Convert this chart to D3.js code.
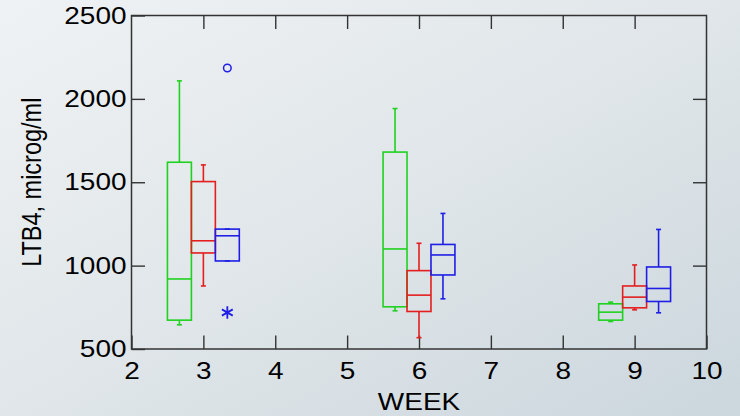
<!DOCTYPE html>
<html>
<head>
<meta charset="utf-8">
<script src="https://cdn.jsdelivr.net/npm/d3@7"></script>
<style>
  html, body { margin: 0; padding: 0; background: #e4e9ec; }
  svg { display: block; }
  text { font-family: "Liberation Sans", Arial, sans-serif; fill: #000; }
</style>
</head>
<body>
<svg id="chart" width="740" height="416"></svg>
<script>
// Weeks at which samples were taken and the horizontal offset of each group's box
const weeks = [3, 6, 9];
const groupOffsets = [-1 / 3, 0, 1 / 3];
const groupColors = ["#1fd21f", "#e41e1e", "#1e1ee6"];

// Five-number summaries per week: [lower whisker, Q1, median, Q3, upper whisker]
const greenStats = [
  [645, 673, 920, 1620, 2108],
  [729, 753, 1100, 1681, 1942],
  [665, 673, 721, 771, 781]
];
const redStats = [
  [878, 1076, 1149, 1504, 1604],
  [568, 725, 823, 970, 1134],
  [735, 747, 811, 878, 1004]
];
const blueStats = [
  [1028, 1028, 1179, 1219, 1219],
  [801, 944, 1064, 1127, 1313],
  [717, 785, 863, 992, 1217]
];

// Outlying points of the blue group at week 3: far outlier (circle), near outlier (star)
const farOutliers = [{ week: 3, group: 2, value: 2185 }];
const nearOutliers = [{ week: 3, group: 2, value: 719 }];

// Axis ticks and labels
const xTicks = [2, 3, 4, 5, 6, 7, 8, 9, 10];
const yTicks = [500, 1000, 1500, 2000, 2500];
const xTitle = "WEEK";
const yTitle = "LTB4, microg/ml";

const svg = d3.select("#chart");
const W = 740, H = 416;
const plotLeft = 131.5, plotRight = 706.5, plotTop = 15.5, plotBottom = 349;
const stretch = 1.19;     // horizontal widening of the lettering
const fontSize = 23.5;

// Background gradient
const defs = svg.append("defs");
const grad = defs.append("linearGradient").attr("id", "bg")
  .attr("x1", 0).attr("y1", 0).attr("x2", 1).attr("y2", 1);
grad.append("stop").attr("offset", "0%").attr("stop-color", "#eff2f4");
grad.append("stop").attr("offset", "50%").attr("stop-color", "#e0e6e9");
grad.append("stop").attr("offset", "100%").attr("stop-color", "#cbd6dd");
svg.append("rect").attr("width", W).attr("height", H).attr("fill", "url(#bg)");

const x = d3.scaleLinear().domain([2, 10]).range([plotLeft, plotRight]);
const y = d3.scaleLinear().domain([500, 2500]).range([plotBottom, plotTop]);

const tickLen = 13.5;
const axisColor = "#333";

function styleAxis(g, showLabels) {
  g.select(".domain").remove();
  g.selectAll(".tick line").attr("stroke", axisColor).attr("stroke-width", 1.4);
  if (!showLabels) g.selectAll(".tick text").remove();
  g.selectAll(".tick text")
    .attr("font-size", fontSize)
    .attr("fill", "#000")
    .attr("font-family", "Liberation Sans, Arial, sans-serif")
    .attr("transform", function () {
      const tx = +this.getAttribute("x") || 0;
      return `translate(${tx},0) scale(${stretch},1) translate(${-tx},0)`;
    });
}

// Inward-pointing ticks on all four sides
svg.append("g").attr("transform", `translate(0,${plotBottom})`)
  .call(d3.axisBottom(x).tickValues(xTicks).tickFormat(d3.format("d"))
    .tickSizeInner(-tickLen).tickSizeOuter(0).tickPadding(13))
  .call(g => styleAxis(g, true));
svg.append("g").attr("transform", `translate(0,${plotTop})`)
  .call(d3.axisTop(x).tickValues(xTicks.slice(1, -1)).tickSizeInner(-tickLen).tickSizeOuter(0))
  .call(g => styleAxis(g, false));
svg.append("g").attr("transform", `translate(${plotLeft},0)`)
  .call(d3.axisLeft(y).tickValues(yTicks).tickFormat(d3.format("d"))
    .tickSizeInner(-tickLen).tickSizeOuter(0).tickPadding(5))
  .call(g => styleAxis(g, true));
svg.append("g").attr("transform", `translate(${plotRight},0)`)
  .call(d3.axisRight(y).tickValues(yTicks.slice(1, -1)).tickSizeInner(-tickLen).tickSizeOuter(0))
  .call(g => styleAxis(g, false));

// Frame
svg.append("rect")
  .attr("x", plotLeft).attr("y", plotTop)
  .attr("width", plotRight - plotLeft).attr("height", plotBottom - plotTop)
  .attr("fill", "none").attr("stroke", axisColor).attr("stroke-width", 1.5);

// Box plots
const allStats = [greenStats, redStats, blueStats];
const boxHalf = (x(2 + 1 / 3) - x(2)) / 2;
const capHalf = 2.5;

allStats.forEach((stats, gi) => {
  const color = groupColors[gi];
  const g = svg.append("g").attr("stroke", color).attr("stroke-width", 1.6).attr("fill", "none");
  stats.forEach((s, wi) => {
    const cx = x(weeks[wi] + groupOffsets[gi]);
    const [lo, q1, med, q3, hi] = s;
    // whiskers
    g.append("line").attr("x1", cx).attr("x2", cx).attr("y1", y(q3)).attr("y2", y(hi));
    g.append("line").attr("x1", cx).attr("x2", cx).attr("y1", y(q1)).attr("y2", y(lo));
    // whisker caps
    g.append("line").attr("x1", cx - capHalf).attr("x2", cx + capHalf).attr("y1", y(hi)).attr("y2", y(hi));
    g.append("line").attr("x1", cx - capHalf).attr("x2", cx + capHalf).attr("y1", y(lo)).attr("y2", y(lo));
    // box
    g.append("rect").attr("x", cx - boxHalf).attr("width", boxHalf * 2)
      .attr("y", y(q3)).attr("height", y(q1) - y(q3));
    // median
    g.append("line").attr("x1", cx - boxHalf).attr("x2", cx + boxHalf)
      .attr("y1", y(med)).attr("y2", y(med));
  });
});

// Far outliers: open circles
svg.selectAll("circle.far").data(farOutliers).join("circle")
  .attr("class", "far")
  .attr("cx", d => x(d.week + groupOffsets[d.group]))
  .attr("cy", d => y(d.value))
  .attr("r", 3.8)
  .attr("fill", "none")
  .attr("stroke", d => groupColors[d.group])
  .attr("stroke-width", 1.5);

// Near outliers: asterisks
svg.selectAll("path.near").data(nearOutliers).join("path")
  .attr("class", "near")
  .attr("transform", d => `translate(${x(d.week + groupOffsets[d.group])},${y(d.value)})`)
  .attr("d", d3.symbol(d3.symbolAsterisk, 110))
  .attr("fill", "none")
  .attr("stroke", d => groupColors[d.group])
  .attr("stroke-width", 1.8);

// Axis titles
svg.append("text")
  .attr("transform", `translate(${(plotLeft + plotRight) / 2},410) scale(${stretch},1)`)
  .attr("text-anchor", "middle")
  .attr("font-size", fontSize)
  .text(xTitle);
svg.append("text")
  .attr("transform", `translate(41,${(plotTop + plotBottom) / 2}) scale(${stretch},1) rotate(-90)`)
  .attr("text-anchor", "middle")
  .attr("font-size", fontSize)
  .text(yTitle);
</script>
</body>
</html>
